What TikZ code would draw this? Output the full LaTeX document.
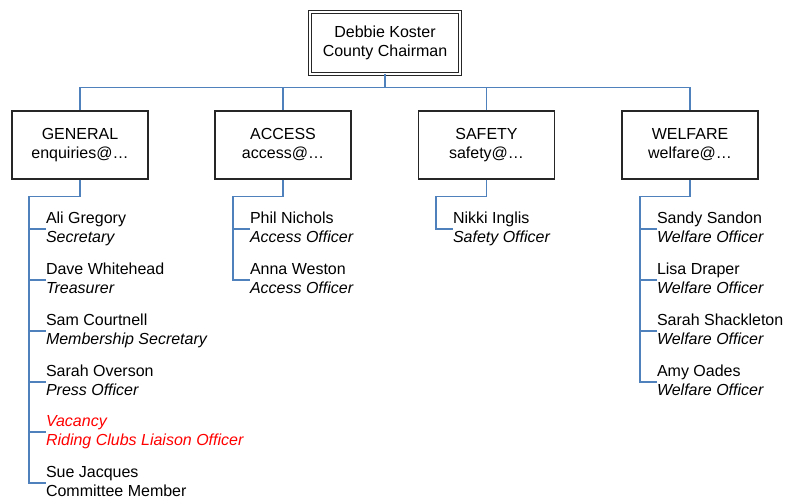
\documentclass[tikz,border=0pt]{standalone}
\usepackage{fontspec}
\setmainfont{Liberation Sans}
\definecolor{linkblue}{RGB}{79,129,189}
\definecolor{vacred}{RGB}{255,0,0}
\tikzset{
	dept/.style={draw=black!85,line width=1.3pt,minimum width=136pt,minimum height=68pt,inner sep=0pt,align=center,font=\fontsize{16}{19}\selectfont},
	chairbox/.style={draw=black!85,double,line width=0.9pt,double distance=2.4pt,minimum width=150pt,minimum height=62pt,inner sep=0pt,align=center,font=\fontsize{16}{19}\selectfont},
	member/.style={anchor=west,inner sep=0pt,outer sep=0pt,align=left,font=\fontsize{16}{19}\selectfont},
	link/.style={draw=linkblue,line width=1.4pt}
}
\begin{document}
\begin{tikzpicture}[x=1pt,y=-1pt]
					\useasboundingbox (0,0) rectangle (790,498);
					\node[chairbox] (chair) at (385,43) {Debbie Koster\\County Chairman};
					\node[dept] (general) at (80,145) {GENERAL\\enquiries@\ldots};
					\node[dept] (access) at (283,145) {ACCESS\\access@\ldots};
					\node[dept] (safety) at (486.5,145) {SAFETY\\safety@\ldots};
					\node[dept] (welfare) at (690,145) {WELFARE\\welfare@\ldots};
					\node[member] (ali) at (46,229) {\strut Ali Gregory\\\strut\textit{Secretary}};
					\node[member] (dave) at (46,280) {\strut Dave Whitehead\\\strut\textit{Treasurer}};
					\node[member] (sam) at (46,331) {\strut Sam Courtnell\\\strut\textit{Membership Secretary}};
					\node[member] (sarah) at (46,382) {\strut Sarah Overson\\\strut\textit{Press Officer}};
					\node[member,text=vacred] (vacancy) at (46,432) {\strut\textit{Vacancy}\\\strut\textit{Riding Clubs Liaison Officer}};
					\node[member] (sue) at (46,483) {\strut Sue Jacques\\\strut Committee Member};
					\node[member] (phil) at (250,229) {\strut Phil Nichols\\\strut\textit{Access Officer}};
					\node[member] (anna) at (250,280) {\strut Anna Weston\\\strut\textit{Access Officer}};
					\node[member] (nikki) at (453,229) {\strut Nikki Inglis\\\strut\textit{Safety Officer}};
					\node[member] (sandy) at (657,229) {\strut Sandy Sandon\\\strut\textit{Welfare Officer}};
					\node[member] (lisa) at (657,280) {\strut Lisa Draper\\\strut\textit{Welfare Officer}};
					\node[member] (shack) at (657,331) {\strut Sarah Shackleton\\\strut\textit{Welfare Officer}};
					\node[member] (amy) at (657,382) {\strut Amy Oades\\\strut\textit{Welfare Officer}};
					\draw[link] (chair.south) -- ++(0,13) coordinate (bar);
					\foreach \d in {general,access,safety,welfare}
						\draw[link] (bar) -| (\d.north);
					\draw[link] (general.south) -- ++(0,17) -| ([xshift=-17pt]sue.west) -- (sue.west);
					\draw[link] (access.south) -- ++(0,17) -| ([xshift=-17pt]anna.west) -- (anna.west);
					\draw[link] (safety.south) -- ++(0,17) -| ([xshift=-17pt]nikki.west) -- (nikki.west);
					\draw[link] (welfare.south) -- ++(0,17) -| ([xshift=-17pt]amy.west) -- (amy.west);
					\foreach \m in {ali,dave,sam,sarah,vacancy,phil,sandy,lisa,shack}
						\draw[link] (\m.west) -- ++(-17,0);
				\end{tikzpicture}
\end{document}
